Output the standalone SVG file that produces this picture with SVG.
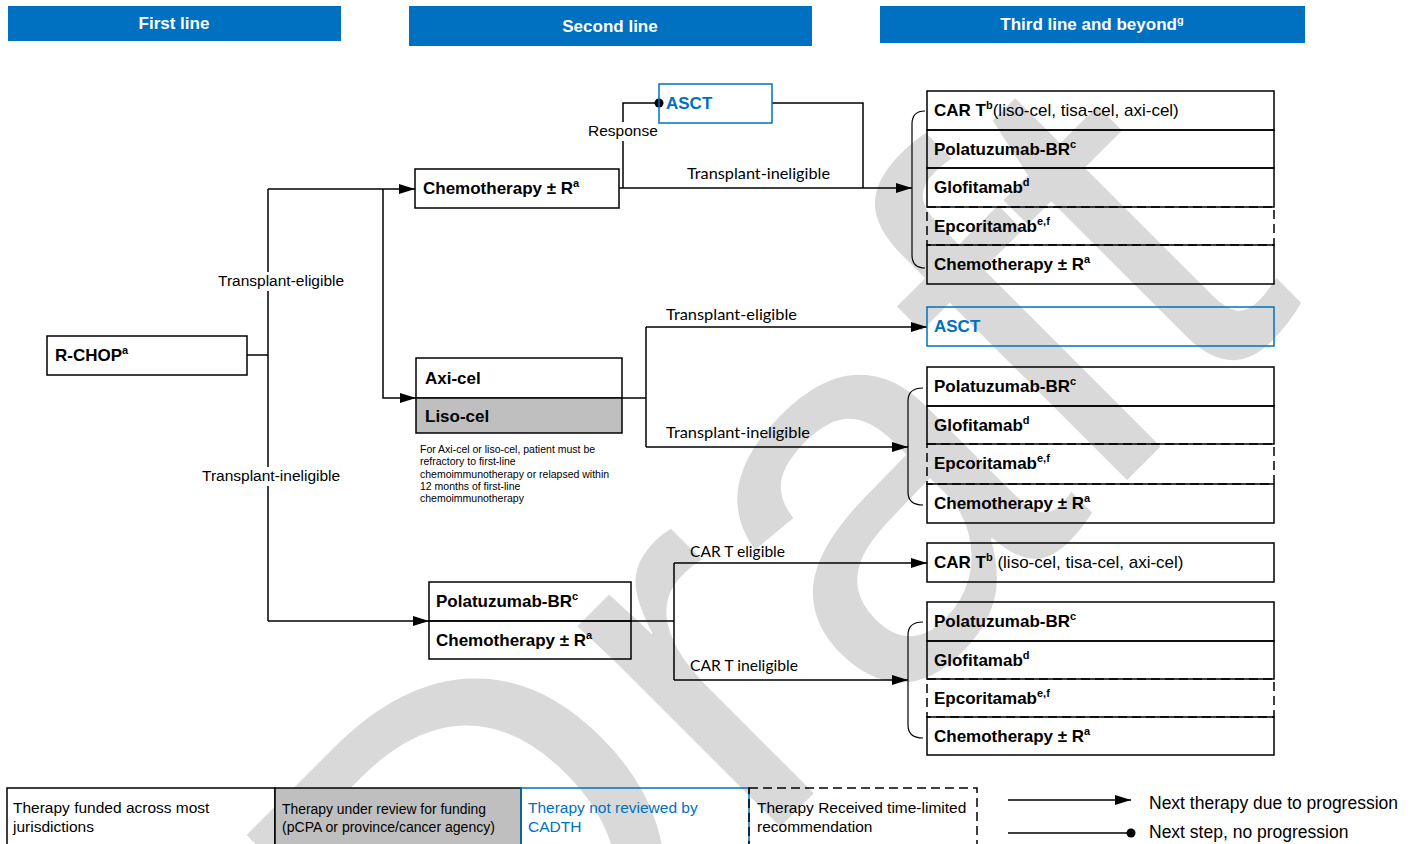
<svg xmlns="http://www.w3.org/2000/svg" width="1412" height="844" viewBox="0 0 1412 844">
<style>
.hdr{fill:#0070C0}
.ht{font-family:"Liberation Sans",Arial,sans-serif;font-size:17px;font-weight:bold;fill:#fff;text-anchor:middle}
.box{fill:none;stroke:#000;stroke-width:1.5}
.gbox{fill:#bfbfbf;stroke:#000;stroke-width:1.5}
.bbox{fill:none;stroke:#0070C0;stroke-width:1.5}
.dbox{fill:none;stroke:#000;stroke-width:1.5;stroke-dasharray:9 5}
.t{font-family:"Liberation Sans",Arial,sans-serif;font-size:17px;font-weight:bold;fill:#000}
.tb{font-family:"Liberation Sans",Arial,sans-serif;font-size:17px;font-weight:bold;fill:#0070C0}
.r{font-weight:normal}
.lbl{font-family:"Liberation Sans",Arial,sans-serif;font-size:15.5px;fill:#000}
.cl{font-family:Lato,"Open Sans",sans-serif;font-size:15px;fill:#000}
.note{font-family:"Liberation Sans",Arial,sans-serif;font-size:10.5px;fill:#000}
.lg{font-family:"Liberation Sans",Arial,sans-serif;font-size:15.5px;fill:#000}
.lgs{font-family:"Liberation Sans",Arial,sans-serif;font-size:14px;fill:#000}
.lgb{font-family:"Liberation Sans",Arial,sans-serif;font-size:15.5px;fill:#0070C0}
.lgr{font-family:"Liberation Sans",Arial,sans-serif;font-size:17.5px;fill:#000}
.conn path{fill:none;stroke:#000;stroke-width:1.5}
.br{fill:none;stroke:#000;stroke-width:1.2}
.wm{font-family:"Liberation Sans",Arial,sans-serif;font-size:540px;fill:#d9d9d9}
</style>
<defs>
<marker id="arr" markerUnits="userSpaceOnUse" markerWidth="16" markerHeight="10" refX="16" refY="5" orient="auto">
<path d="M0,0 L16,5 L0,10 z" fill="#000"/>
</marker>
<marker id="dot" markerUnits="userSpaceOnUse" markerWidth="10" markerHeight="10" refX="5" refY="5" orient="auto">
<circle cx="5" cy="5" r="4.5" fill="#000"/>
</marker>
</defs>
<rect width="1412" height="844" fill="#fff"/>
<g id="watermark"><text class="wm" transform="translate(478,1129) rotate(-45)">Draft</text></g>

<g id="headers">
<rect class="hdr" x="8" y="6" width="333" height="35"/>
<text class="ht" x="174" y="29">First line</text>
<rect class="hdr" x="409" y="6" width="403" height="40"/>
<text class="ht" x="610" y="32">Second line</text>
<rect class="hdr" x="880" y="6" width="425" height="37"/>
<text class="ht" x="1092" y="30">Third line and beyond<tspan dy="-6" font-size="11">g</tspan></text>
</g>

<g class="conn" id="connectors">
<path d="M247,355 H268"/>
<path d="M268,189 V621"/>
<path d="M268,189 H415" marker-end="url(#arr)"/>
<path d="M383,189 V398 H416" marker-end="url(#arr)"/>
<path d="M268,621 H429" marker-end="url(#arr)"/>
<path d="M619,188 H912" marker-end="url(#arr)"/>
<path d="M623,188 V103 H659" marker-end="url(#dot)"/>
<path d="M772,103 H863 V188"/>
<path d="M622,398 H646"/>
<path d="M646,327 V447"/>
<path d="M646,327 H927" marker-end="url(#arr)"/>
<path d="M646,447 H908" marker-end="url(#arr)"/>
<path d="M631,621 H674"/>
<path d="M674,563 V680"/>
<path d="M674,563 H927" marker-end="url(#arr)"/>
<path d="M674,680 H908" marker-end="url(#arr)"/>
</g>

<g id="edge-labels">
<rect x="216" y="272" width="131" height="19" fill="#fff"/>
<text class="lbl" x="218" y="286">Transplant-eligible</text>
<rect x="200" y="467" width="143" height="19" fill="#fff"/>
<text class="lbl" x="202" y="481">Transplant-ineligible</text>
<rect x="586" y="122" width="74" height="19" fill="#fff"/>
<text class="lbl" x="588" y="136">Response</text>
<text class="cl" x="687" y="179" textLength="143" lengthAdjust="spacingAndGlyphs">Transplant-ineligible</text>
<text class="cl" x="666" y="320" textLength="131" lengthAdjust="spacingAndGlyphs">Transplant-eligible</text>
<text class="cl" x="666" y="438" textLength="144" lengthAdjust="spacingAndGlyphs">Transplant-ineligible</text>
<text class="cl" x="690" y="557" textLength="95" lengthAdjust="spacingAndGlyphs">CAR T eligible</text>
<text class="cl" x="690" y="671" textLength="108" lengthAdjust="spacingAndGlyphs">CAR T ineligible</text>
</g>

<g id="node-rchop">
<rect class="box" x="47" y="336" width="200" height="39"/>
<text class="t" x="55" y="361">R-CHOP<tspan dy="-7" font-size="11">a</tspan></text>
</g>

<g id="node-chemo2">
<rect class="box" x="415" y="169" width="204" height="39"/>
<text class="t" x="423" y="194">Chemotherapy ± R<tspan dy="-7" font-size="11">a</tspan></text>
</g>

<g id="node-asct2">
<rect class="bbox" x="659" y="84" width="113" height="39"/>
<text class="tb" x="666" y="109">ASCT</text>
</g>

<g id="node-car2">
<rect class="box" x="416" y="358" width="206" height="40"/>
<text class="t" x="425" y="384">Axi-cel</text>
<rect class="gbox" x="416" y="398" width="206" height="35"/>
<text class="t" x="425" y="422">Liso-cel</text>
<text class="note" x="420" y="453">For Axi-cel or liso-cel, patient must be</text>
<text class="note" x="420" y="465">refractory to first-line</text>
<text class="note" x="420" y="477.5">chemoimmunotherapy or relapsed within</text>
<text class="note" x="420" y="490">12 months of first-line</text>
<text class="note" x="420" y="502">chemoimmunotherapy</text>
</g>

<g id="node-polabr2">
<rect class="box" x="429" y="582" width="202" height="39"/>
<text class="t" x="436" y="607">Polatuzumab-BR<tspan dy="-7" font-size="11">c</tspan></text>
<rect class="box" x="429" y="621" width="202" height="38"/>
<text class="t" x="436" y="646">Chemotherapy ± R<tspan dy="-7" font-size="11">a</tspan></text>
</g>

<g id="node-third-a">
<path class="br" d="M925,111 Q912,111 912,124 V255 Q912,268 925,268"/>
<rect class="box" x="927" y="91" width="347" height="39"/>
<text class="t" x="934" y="116">CAR T<tspan dy="-7" font-size="11">b</tspan><tspan class="r" dy="7">(liso-cel, tisa-cel, axi-cel)</tspan></text>
<rect class="box" x="927" y="130" width="347" height="38"/>
<text class="t" x="934" y="155">Polatuzumab-BR<tspan dy="-7" font-size="11">c</tspan></text>
<rect class="box" x="927" y="168" width="347" height="39" stroke-width="2"/>
<text class="t" x="934" y="193">Glofitamab<tspan dy="-7" font-size="11">d</tspan></text>
<rect class="dbox" x="927" y="207" width="347" height="38"/>
<text class="t" x="934" y="232">Epcoritamab<tspan dy="-7" font-size="11">e,f</tspan></text>
<rect class="box" x="927" y="245" width="347" height="39"/>
<text class="t" x="934" y="270">Chemotherapy ± R<tspan dy="-7" font-size="11">a</tspan></text>
</g>

<g id="node-asct3">
<rect class="bbox" x="927" y="307" width="347" height="39"/>
<text class="tb" x="934" y="332">ASCT</text>
</g>

<g id="node-third-b">
<path class="br" d="M923,388 Q908,388 908,401 V492 Q908,505 923,505"/>
<rect class="box" x="927" y="367" width="347" height="39"/>
<text class="t" x="934" y="392">Polatuzumab-BR<tspan dy="-7" font-size="11">c</tspan></text>
<rect class="box" x="927" y="406" width="347" height="38"/>
<text class="t" x="934" y="431">Glofitamab<tspan dy="-7" font-size="11">d</tspan></text>
<rect class="dbox" x="927" y="444" width="347" height="40"/>
<text class="t" x="934" y="469">Epcoritamab<tspan dy="-7" font-size="11">e,f</tspan></text>
<rect class="box" x="927" y="484" width="347" height="39"/>
<text class="t" x="934" y="509">Chemotherapy ± R<tspan dy="-7" font-size="11">a</tspan></text>
</g>

<g id="node-cart3">
<rect class="box" x="927" y="543" width="347" height="39"/>
<text class="t" x="934" y="568">CAR T<tspan dy="-7" font-size="11">b</tspan><tspan class="r" dy="7"> (liso-cel, tisa-cel, axi-cel)</tspan></text>
</g>

<g id="node-third-c">
<path class="br" d="M923,622 Q908,622 908,635 V725 Q908,738 923,738"/>
<rect class="box" x="927" y="602" width="347" height="39"/>
<text class="t" x="934" y="627">Polatuzumab-BR<tspan dy="-7" font-size="11">c</tspan></text>
<rect class="box" x="927" y="641" width="347" height="38"/>
<text class="t" x="934" y="666">Glofitamab<tspan dy="-7" font-size="11">d</tspan></text>
<rect class="dbox" x="927" y="679" width="347" height="38" stroke-width="2"/>
<text class="t" x="934" y="704">Epcoritamab<tspan dy="-7" font-size="11">e,f</tspan></text>
<rect class="box" x="927" y="717" width="347" height="38"/>
<text class="t" x="934" y="742">Chemotherapy ± R<tspan dy="-7" font-size="11">a</tspan></text>
</g>

<g id="legend">
<rect class="box" x="7" y="788" width="268" height="62"/>
<text class="lg" x="13" y="813">Therapy funded across most</text>
<text class="lg" x="13" y="832">jurisdictions</text>
<rect class="gbox" x="275" y="788" width="246" height="62"/>
<text class="lgs" x="282" y="814" textLength="204" lengthAdjust="spacingAndGlyphs">Therapy under review for funding</text>
<text class="lgs" x="282" y="832" textLength="213" lengthAdjust="spacingAndGlyphs">(pCPA or province/cancer agency)</text>
<rect class="bbox" x="521" y="788" width="228" height="62"/>
<text class="lgb" x="528" y="813">Therapy not reviewed by</text>
<text class="lgb" x="528" y="832">CADTH</text>
<rect class="dbox" x="749" y="788" width="228" height="62"/>
<text class="lg" x="757" y="813">Therapy Received time-limited</text>
<text class="lg" x="757" y="832">recommendation</text>
<g class="conn">
<path d="M1008,800 H1131" marker-end="url(#arr)"/>
<path d="M1008,833 H1131" marker-end="url(#dot)"/>
</g>
<text class="lgr" x="1149" y="809">Next therapy due to progression</text>
<text class="lgr" x="1149" y="838">Next step, no progression</text>
</g>
</svg>
